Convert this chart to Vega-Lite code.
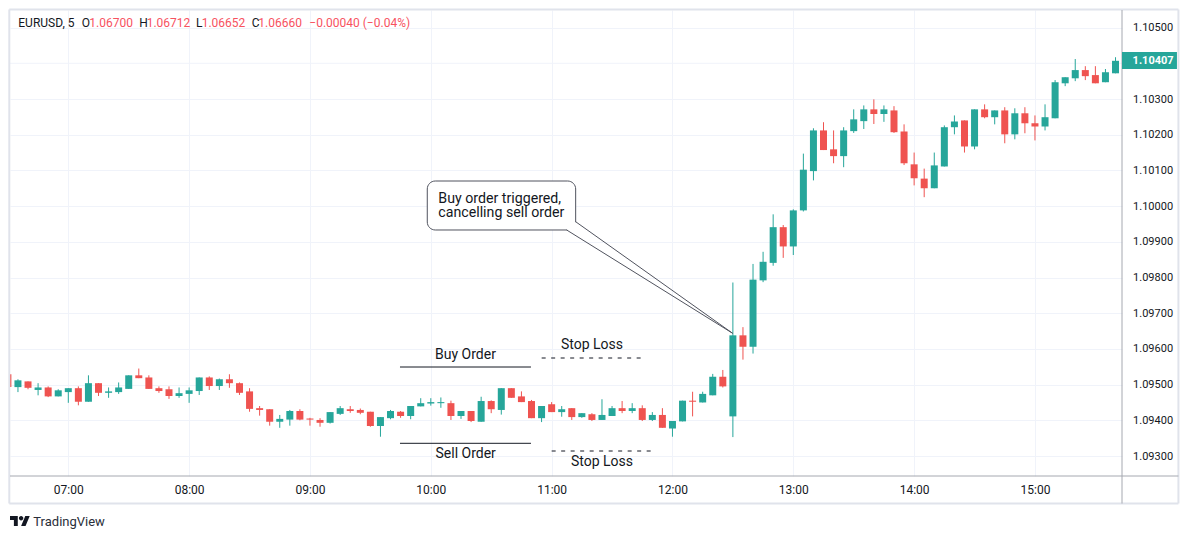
{
  "$schema": "https://vega.github.io/schema/vega-lite/v6.json",
  "width": 1112,
  "height": 466,
  "autosize": {"type": "none"},
  "padding": {"left": 10, "top": 10, "right": 67, "bottom": 63},
  "background": "#ffffff",
  "config": {"view": {"stroke": null}, "font": "Roboto", "axis": {"labelOverlap": false, "labelFlush": false}},
  "data": {
    "format": {"parse": {"t": "utc:'%H:%M'"}},
    "values": [
      {"t":"06:30","o":1.09529,"h":1.09529,"l":1.09493,"c":1.09493},
      {"t":"06:35","o":1.09493,"h":1.09515,"l":1.09479,"c":1.09512},
      {"t":"06:40","o":1.09509,"h":1.09509,"l":1.09487,"c":1.09491},
      {"t":"06:45","o":1.09485,"h":1.09504,"l":1.09470,"c":1.09492},
      {"t":"06:50","o":1.09492,"h":1.09495,"l":1.09465,"c":1.09467},
      {"t":"06:55","o":1.09467,"h":1.09487,"l":1.09467,"c":1.09484},
      {"t":"07:00","o":1.09479,"h":1.09490,"l":1.09449,"c":1.09490},
      {"t":"07:05","o":1.09490,"h":1.09495,"l":1.09442,"c":1.09452},
      {"t":"07:10","o":1.09452,"h":1.09526,"l":1.09452,"c":1.09504},
      {"t":"07:15","o":1.09504,"h":1.09504,"l":1.09468,"c":1.09477},
      {"t":"07:20","o":1.09477,"h":1.09492,"l":1.09463,"c":1.09481},
      {"t":"07:25","o":1.09479,"h":1.09506,"l":1.09474,"c":1.09492},
      {"t":"07:30","o":1.09488,"h":1.09526,"l":1.09488,"c":1.09526},
      {"t":"07:35","o":1.09526,"h":1.09545,"l":1.09518,"c":1.09518},
      {"t":"07:40","o":1.09520,"h":1.09526,"l":1.09488,"c":1.09488},
      {"t":"07:45","o":1.09490,"h":1.09495,"l":1.09477,"c":1.09482},
      {"t":"07:50","o":1.09487,"h":1.09495,"l":1.09460,"c":1.09468},
      {"t":"07:55","o":1.09468,"h":1.09492,"l":1.09463,"c":1.09476},
      {"t":"08:00","o":1.09474,"h":1.09492,"l":1.09449,"c":1.09484},
      {"t":"08:05","o":1.09482,"h":1.09520,"l":1.09471,"c":1.09520},
      {"t":"08:10","o":1.09520,"h":1.09523,"l":1.09485,"c":1.09496},
      {"t":"08:15","o":1.09496,"h":1.09517,"l":1.09485,"c":1.09515},
      {"t":"08:20","o":1.09515,"h":1.09529,"l":1.09491,"c":1.09504},
      {"t":"08:25","o":1.09504,"h":1.09506,"l":1.09471,"c":1.09477},
      {"t":"08:30","o":1.09481,"h":1.09490,"l":1.09424,"c":1.09432},
      {"t":"08:35","o":1.09434,"h":1.09440,"l":1.09413,"c":1.09429},
      {"t":"08:40","o":1.09431,"h":1.09431,"l":1.09385,"c":1.09396},
      {"t":"08:45","o":1.09396,"h":1.09415,"l":1.09379,"c":1.09404},
      {"t":"08:50","o":1.09402,"h":1.09429,"l":1.09385,"c":1.09426},
      {"t":"08:55","o":1.09426,"h":1.09431,"l":1.09400,"c":1.09402},
      {"t":"09:00","o":1.09405,"h":1.09407,"l":1.09385,"c":1.09402},
      {"t":"09:05","o":1.09401,"h":1.09406,"l":1.09382,"c":1.09393},
      {"t":"09:10","o":1.09393,"h":1.09423,"l":1.09391,"c":1.09423},
      {"t":"09:15","o":1.09418,"h":1.09440,"l":1.09415,"c":1.09434},
      {"t":"09:20","o":1.09431,"h":1.09440,"l":1.09421,"c":1.09426},
      {"t":"09:25","o":1.09429,"h":1.09433,"l":1.09417,"c":1.09421},
      {"t":"09:30","o":1.09424,"h":1.09424,"l":1.09382,"c":1.09384},
      {"t":"09:35","o":1.09384,"h":1.09409,"l":1.09354,"c":1.09409},
      {"t":"09:40","o":1.09406,"h":1.09429,"l":1.09403,"c":1.09426},
      {"t":"09:45","o":1.09424,"h":1.09426,"l":1.09407,"c":1.09412},
      {"t":"09:50","o":1.09412,"h":1.09440,"l":1.09403,"c":1.09440},
      {"t":"09:55","o":1.09439,"h":1.09462,"l":1.09439,"c":1.09448},
      {"t":"10:00","o":1.09447,"h":1.09462,"l":1.09441,"c":1.09451},
      {"t":"10:05","o":1.09448,"h":1.09464,"l":1.09435,"c":1.09451},
      {"t":"10:10","o":1.09448,"h":1.09455,"l":1.09401,"c":1.09412},
      {"t":"10:15","o":1.09412,"h":1.09426,"l":1.09404,"c":1.09426},
      {"t":"10:20","o":1.09426,"h":1.09426,"l":1.09395,"c":1.09398},
      {"t":"10:25","o":1.09396,"h":1.09466,"l":1.09396,"c":1.09454},
      {"t":"10:30","o":1.09454,"h":1.09456,"l":1.09420,"c":1.09431},
      {"t":"10:35","o":1.09429,"h":1.09490,"l":1.09416,"c":1.09490},
      {"t":"10:40","o":1.09490,"h":1.09490,"l":1.09463,"c":1.09463},
      {"t":"10:45","o":1.09467,"h":1.09481,"l":1.09451,"c":1.09451},
      {"t":"10:50","o":1.09454,"h":1.09457,"l":1.09406,"c":1.09406},
      {"t":"10:55","o":1.09406,"h":1.09440,"l":1.09395,"c":1.09440},
      {"t":"11:00","o":1.09445,"h":1.09451,"l":1.09423,"c":1.09423},
      {"t":"11:05","o":1.09423,"h":1.09440,"l":1.09410,"c":1.09431},
      {"t":"11:10","o":1.09434,"h":1.09434,"l":1.09401,"c":1.09409},
      {"t":"11:15","o":1.09409,"h":1.09420,"l":1.09407,"c":1.09420},
      {"t":"11:20","o":1.09417,"h":1.09420,"l":1.09398,"c":1.09401},
      {"t":"11:25","o":1.09401,"h":1.09459,"l":1.09401,"c":1.09415},
      {"t":"11:30","o":1.09412,"h":1.09440,"l":1.09412,"c":1.09434},
      {"t":"11:35","o":1.09434,"h":1.09454,"l":1.09420,"c":1.09426},
      {"t":"11:40","o":1.09426,"h":1.09448,"l":1.09420,"c":1.09434},
      {"t":"11:45","o":1.09434,"h":1.09442,"l":1.09398,"c":1.09401},
      {"t":"11:50","o":1.09401,"h":1.09423,"l":1.09398,"c":1.09415},
      {"t":"11:55","o":1.09415,"h":1.09434,"l":1.09379,"c":1.09379},
      {"t":"12:00","o":1.09377,"h":1.09398,"l":1.09354,"c":1.09398},
      {"t":"12:05","o":1.09397,"h":1.09455,"l":1.09397,"c":1.09455},
      {"t":"12:10","o":1.09455,"h":1.09480,"l":1.09411,"c":1.09452},
      {"t":"12:15","o":1.09450,"h":1.09480,"l":1.09450,"c":1.09474},
      {"t":"12:20","o":1.09470,"h":1.09530,"l":1.09470,"c":1.09522},
      {"t":"12:25","o":1.09522,"h":1.09541,"l":1.09492,"c":1.09495},
      {"t":"12:30","o":1.09411,"h":1.09786,"l":1.09353,"c":1.09638},
      {"t":"12:35","o":1.09638,"h":1.09661,"l":1.09570,"c":1.09606},
      {"t":"12:40","o":1.09606,"h":1.09838,"l":1.09587,"c":1.09794},
      {"t":"12:45","o":1.09792,"h":1.09872,"l":1.09787,"c":1.09844},
      {"t":"12:50","o":1.09841,"h":1.09977,"l":1.09833,"c":1.09941},
      {"t":"12:55","o":1.09941,"h":1.09947,"l":1.09855,"c":1.09887},
      {"t":"13:00","o":1.09887,"h":1.09991,"l":1.09863,"c":1.09988},
      {"t":"13:05","o":1.09988,"h":1.10147,"l":1.09985,"c":1.10102},
      {"t":"13:10","o":1.10098,"h":1.10218,"l":1.10072,"c":1.10212},
      {"t":"13:15","o":1.10212,"h":1.10235,"l":1.10157,"c":1.10157},
      {"t":"13:20","o":1.10159,"h":1.10212,"l":1.10120,"c":1.10140},
      {"t":"13:25","o":1.10140,"h":1.10221,"l":1.10109,"c":1.10212},
      {"t":"13:30","o":1.10210,"h":1.10271,"l":1.10205,"c":1.10243},
      {"t":"13:35","o":1.10238,"h":1.10282,"l":1.10216,"c":1.10271},
      {"t":"13:40","o":1.10271,"h":1.10299,"l":1.10230,"c":1.10258},
      {"t":"13:45","o":1.10258,"h":1.10282,"l":1.10236,"c":1.10271},
      {"t":"13:50","o":1.10268,"h":1.10280,"l":1.10205,"c":1.10207},
      {"t":"13:55","o":1.10209,"h":1.10229,"l":1.10115,"c":1.10120},
      {"t":"14:00","o":1.10117,"h":1.10150,"l":1.10058,"c":1.10078},
      {"t":"14:05","o":1.10077,"h":1.10105,"l":1.10025,"c":1.10050},
      {"t":"14:10","o":1.10050,"h":1.10150,"l":1.10050,"c":1.10114},
      {"t":"14:15","o":1.10111,"h":1.10226,"l":1.10111,"c":1.10221},
      {"t":"14:20","o":1.10221,"h":1.10254,"l":1.10201,"c":1.10237},
      {"t":"14:25","o":1.10240,"h":1.10240,"l":1.10150,"c":1.10167},
      {"t":"14:30","o":1.10167,"h":1.10271,"l":1.10159,"c":1.10271},
      {"t":"14:35","o":1.10271,"h":1.10285,"l":1.10246,"c":1.10249},
      {"t":"14:40","o":1.10249,"h":1.10268,"l":1.10229,"c":1.10268},
      {"t":"14:45","o":1.10268,"h":1.10277,"l":1.10176,"c":1.10201},
      {"t":"14:50","o":1.10201,"h":1.10274,"l":1.10187,"c":1.10260},
      {"t":"14:55","o":1.10260,"h":1.10277,"l":1.10204,"c":1.10232},
      {"t":"15:00","o":1.10232,"h":1.10254,"l":1.10184,"c":1.10223},
      {"t":"15:05","o":1.10223,"h":1.10285,"l":1.10212,"c":1.10249},
      {"t":"15:10","o":1.10246,"h":1.10353,"l":1.10246,"c":1.10347},
      {"t":"15:15","o":1.10344,"h":1.10361,"l":1.10336,"c":1.10361},
      {"t":"15:20","o":1.10358,"h":1.10412,"l":1.10350,"c":1.10381},
      {"t":"15:25","o":1.10381,"h":1.10392,"l":1.10353,"c":1.10364},
      {"t":"15:30","o":1.10367,"h":1.10392,"l":1.10344,"c":1.10344},
      {"t":"15:35","o":1.10347,"h":1.10384,"l":1.10347,"c":1.10375},
      {"t":"15:40","o":1.10372,"h":1.10417,"l":1.10372,"c":1.10407}
    ]
  },
  "layer": [
    {
      "data": {"values": [{}]},
      "mark": {"type": "rule", "color": "#F0F3FA", "strokeWidth": 1},
      "encoding": {
        "x": {"datum": {"year":1900,"month":1,"date":1,"hours":6,"minutes":31,"seconds":3,"utc":true}, "type": "temporal"},
        "x2": {"datum": {"year":1900,"month":1,"date":1,"hours":15,"minutes":43,"seconds":13,"utc":true}},
        "y": {"datum": 1.104, "type": "quantitative"}
      }
    },
    {
      "mark": {"type": "rule", "strokeWidth": 1, "clip": true},
      "encoding": {
        "x": {
          "field": "t", "type": "temporal",
          "scale": {"type": "utc", "padding": 0, "domain": [
            {"year":1900,"month":1,"date":1,"hours":6,"minutes":31,"seconds":3,"utc":true},
            {"year":1900,"month":1,"date":1,"hours":15,"minutes":43,"seconds":13,"utc":true}
          ]},
          "axis": {
            "title": null,
            "values": [
              {"year":1900,"month":1,"date":1,"hours":7,"utc":true},
              {"year":1900,"month":1,"date":1,"hours":8,"utc":true},
              {"year":1900,"month":1,"date":1,"hours":9,"utc":true},
              {"year":1900,"month":1,"date":1,"hours":10,"utc":true},
              {"year":1900,"month":1,"date":1,"hours":11,"utc":true},
              {"year":1900,"month":1,"date":1,"hours":12,"utc":true},
              {"year":1900,"month":1,"date":1,"hours":13,"utc":true},
              {"year":1900,"month":1,"date":1,"hours":14,"utc":true},
              {"year":1900,"month":1,"date":1,"hours":15,"utc":true}
            ],
            "labelExpr": "utcFormat(datum.value, '%H:%M')",
            "grid": true, "gridColor": "#F0F3FA", "gridWidth": 1,
            "ticks": false, "tickSize": 0, "domain": false,
            "labelFont": "Roboto", "labelFontSize": 12, "labelColor": "#131722",
            "labelPadding": 13, "labelBaseline": "middle", "labelFlush": false, "labelOverlap": false
          }
        },
        "y": {
          "field": "l", "type": "quantitative",
          "scale": {"domain": [1.09244, 1.105493], "zero": false, "nice": false, "padding": 0},
          "axis": {
            "title": null, "orient": "right",
            "values": [1.093, 1.094, 1.095, 1.096, 1.097, 1.098, 1.099, 1.100, 1.101, 1.102, 1.103, 1.105],
            "format": ".5f",
            "grid": true, "gridColor": "#F0F3FA", "gridWidth": 1,
            "ticks": false, "tickSize": 0, "domain": false,
            "labelFont": "Roboto", "labelFontSize": 11, "labelColor": "#131722",
            "labelPadding": 10.6, "labelAlign": "left", "labelFlush": false, "labelOverlap": false,
            "labelSeparation": 0
          }
        },
        "y2": {"field": "h"},
        "color": {"condition": {"test": "datum.o > datum.c", "value": "#EF5350"}, "value": "#26A69A"}
      }
    },
    {
      "mark": {"type": "bar", "width": 7, "clip": true},
      "encoding": {
        "x": {"field": "t", "type": "temporal"},
        "y": {"field": "o", "type": "quantitative"},
        "y2": {"field": "c"},
        "color": {"condition": {"test": "datum.o > datum.c", "value": "#EF5350"}, "value": "#26A69A"}
      }
    },
    {
      "data": {"values": [{}]},
      "layer": [
        {
          "mark": {"type": "rule", "color": "#E0E3EB", "strokeWidth": 2},
          "encoding": {
            "x": {"datum": {"year":1900,"month":1,"date":1,"hours":6,"minutes":30,"seconds":42,"utc":true}, "type": "temporal"},
            "x2": {"datum": {"year":1900,"month":1,"date":1,"hours":16,"minutes":11,"seconds":14,"utc":true}},
            "y": {"datum": 1.105507, "type": "quantitative"}
          }
        },
        {
          "mark": {"type": "rule", "color": "#E0E3EB", "strokeWidth": 2},
          "encoding": {
            "x": {"datum": {"year":1900,"month":1,"date":1,"hours":6,"minutes":30,"seconds":42,"utc":true}, "type": "temporal"},
            "x2": {"datum": {"year":1900,"month":1,"date":1,"hours":16,"minutes":11,"seconds":14,"utc":true}},
            "y": {"datum": 1.091669, "type": "quantitative"}
          }
        },
        {
          "mark": {"type": "rule", "color": "#E0E3EB", "strokeWidth": 2},
          "encoding": {
            "x": {"datum": {"year":1900,"month":1,"date":1,"hours":6,"minutes":30,"seconds":42,"utc":true}, "type": "temporal"},
            "y": {"datum": 1.105507, "type": "quantitative"},
            "y2": {"datum": 1.091669}
          }
        },
        {
          "mark": {"type": "rule", "color": "#E0E3EB", "strokeWidth": 2},
          "encoding": {
            "x": {"datum": {"year":1900,"month":1,"date":1,"hours":16,"minutes":11,"seconds":14,"utc":true}, "type": "temporal"},
            "y": {"datum": 1.105507, "type": "quantitative"},
            "y2": {"datum": 1.091669}
          }
        },
        {
          "mark": {"type": "rule", "color": "#A5A8B0", "strokeWidth": 1},
          "encoding": {
            "x": {"datum": {"year":1900,"month":1,"date":1,"hours":6,"minutes":31,"seconds":3,"utc":true}, "type": "temporal"},
            "x2": {"datum": {"year":1900,"month":1,"date":1,"hours":16,"minutes":11,"seconds":14,"utc":true}},
            "y": {"datum": 1.09244, "type": "quantitative"}
          }
        },
        {
          "mark": {"type": "rule", "color": "#A5A8B0", "strokeWidth": 1},
          "encoding": {
            "x": {"datum": {"year":1900,"month":1,"date":1,"hours":15,"minutes":43,"seconds":13,"utc":true}, "type": "temporal"},
            "y": {"datum": 1.105493, "type": "quantitative"},
            "y2": {"datum": 1.091669}
          }
        },
        {
          "mark": {"type": "rect", "color": "#26A69A"},
          "encoding": {
            "x": {"datum": {"year":1900,"month":1,"date":1,"hours":15,"minutes":43,"seconds":13,"utc":true}, "type": "temporal"},
            "x2": {"datum": {"year":1900,"month":1,"date":1,"hours":16,"minutes":10,"seconds":30,"utc":true}},
            "y": {"datum": 1.104317, "type": "quantitative"},
            "y2": {"datum": 1.10384}
          }
        },
        {
          "mark": {"type": "text", "color": "#ffffff", "font": "Roboto", "fontSize": 11, "fontWeight": "bold", "align": "left", "baseline": "middle"},
          "encoding": {
            "x": {"datum": {"year":1900,"month":1,"date":1,"hours":15,"minutes":48,"seconds":28,"utc":true}, "type": "temporal"},
            "y": {"datum": 1.10407, "type": "quantitative"},
            "text": {"value": "1.10407"}
          }
        },
        {
          "mark": {"type": "point", "filled": true, "color": "#131722", "opacity": 1, "size": 400, "strokeWidth": 0,
                   "shape": "M-0.222 0.5H-0.611V-0.111H-1V-0.5H-0.222Z M0.556 0.5H0.111L0.528 -0.5H0.972Z M-0.111 -0.278A0.222 0.222 0 1 0 0.333 -0.278A0.222 0.222 0 1 0 -0.111 -0.278Z"},
          "encoding": {
            "x": {"datum": {"year":1900,"month":1,"date":1,"hours":6,"minutes":36,"seconds":1,"utc":true}, "type": "temporal"},
            "y": {"datum": 1.091179, "type": "quantitative"}
          }
        },
        {
          "mark": {"type": "text", "color": "#2A2E39", "font": "Roboto", "fontSize": 13, "align": "left", "baseline": "middle"},
          "encoding": {
            "x": {"datum": {"year":1900,"month":1,"date":1,"hours":6,"minutes":42,"seconds":37,"utc":true}, "type": "temporal"},
            "y": {"datum": 1.09116, "type": "quantitative"},
            "text": {"value": "TradingView"}
          }
        }
      ]
    },
    {
      "data": {
        "format": {"parse": {"t": "utc:'%H:%M:%S'"}},
        "values": [
          {"t":"06:35:10","text":"EURUSD, 5","kind":"label"},
          {"t":"07:06:39","text":"O","kind":"label"},
          {"t":"07:10:26","text":"1.06700","kind":"value"},
          {"t":"07:35:15","text":"H","kind":"label"},
          {"t":"07:38:56","text":"1.06712","kind":"value"},
          {"t":"08:03:25","text":"L","kind":"label"},
          {"t":"08:06:14","text":"1.06652","kind":"value"},
          {"t":"08:31:04","text":"C","kind":"label"},
          {"t":"08:34:20","text":"1.06660","kind":"value"},
          {"t":"08:59:40","text":"−0.00040 (−0.04%)","kind":"value"}
        ]
      },
      "mark": {"type": "text", "font": "Roboto", "fontSize": 12, "align": "left", "baseline": "middle"},
      "encoding": {
        "x": {"field": "t", "type": "temporal"},
        "y": {"datum": 1.105129, "type": "quantitative"},
        "text": {"field": "text"},
        "color": {"field": "kind", "type": "nominal", "scale": {"domain": ["label", "value"], "range": ["#131722", "#F7525F"]}, "legend": null}
      }
    },
    {
      "data": {
        "format": {"parse": {"t1": "utc:'%H:%M:%S'", "t2": "utc:'%H:%M:%S'"}},
        "values": [
          {"t1":"09:44:42","t2":"10:49:44","p":1.095493,"style":"solid"},
          {"t1":"09:44:42","t2":"10:49:44","p":1.093356,"style":"solid"},
          {"t1":"10:55:03","t2":"11:44:42","p":1.095745,"style":"dashed"},
          {"t1":"11:00:01","t2":"11:49:40","p":1.093140,"style":"dashed"}
        ]
      },
      "mark": {"type": "rule", "color": "#131722", "strokeWidth": 1},
      "encoding": {
        "x": {"field": "t1", "type": "temporal"},
        "x2": {"field": "t2"},
        "y": {"field": "p", "type": "quantitative"},
        "strokeDash": {"field": "style", "type": "nominal", "scale": {"domain": ["solid", "dashed"], "range": [[1, 0], [4, 5.5]]}, "legend": null}
      }
    },
    {
      "data": {
        "format": {"parse": {"t": "utc:'%H:%M:%S'"}},
        "values": [
          {"t":"10:17:13","p":1.095829,"text":"Buy Order"},
          {"t":"10:17:19","p":1.093048,"text":"Sell Order"},
          {"t":"11:20:02","p":1.096109,"text":"Stop Loss"},
          {"t":"11:24:59","p":1.092824,"text":"Stop Loss"}
        ]
      },
      "mark": {"type": "text", "font": "Roboto", "fontSize": 14, "color": "#131722", "align": "center", "baseline": "middle"},
      "encoding": {
        "x": {"field": "t", "type": "temporal"},
        "y": {"field": "p", "type": "quantitative"},
        "text": {"field": "text"}
      }
    },
    {
      "data": {
        "format": {"parse": {"t1": "utc:'%H:%M:%S'", "t2": "utc:'%H:%M:%S'"}},
        "values": [
          {"t1":"09:58:15","t2":"11:11:56","p1":1.100703,"p2":1.099331}
        ]
      },
      "mark": {"type": "rect", "fill": "#ffffff", "stroke": "#50535E", "strokeWidth": 1, "cornerRadius": 8},
      "encoding": {
        "x": {"field": "t1", "type": "temporal"},
        "x2": {"field": "t2"},
        "y": {"field": "p1", "type": "quantitative"},
        "y2": {"field": "p2"}
      }
    },
    {
      "data": {
        "format": {"parse": {"t1": "utc:'%H:%M:%S'", "t2": "utc:'%H:%M:%S'"}},
        "values": [
          {"t1":"11:07:43","t2":"11:12:50","p1":1.099549,"p2":1.099289}
        ]
      },
      "mark": {"type": "rect", "fill": "#ffffff", "strokeWidth": 0},
      "encoding": {
        "x": {"field": "t1", "type": "temporal"},
        "x2": {"field": "t2"},
        "y": {"field": "p1", "type": "quantitative"},
        "y2": {"field": "p2"}
      }
    },
    {
      "data": {
        "format": {"parse": {"t1": "utc:'%H:%M:%S'", "t2": "utc:'%H:%M:%S'"}},
        "values": [
          {"t1":"11:07:28","p1":1.099331,"t2":"12:29:53","p2":1.096437},
          {"t1":"11:11:56","p1":1.099563,"t2":"12:29:53","p2":1.096437}
        ]
      },
      "mark": {"type": "rule", "color": "#50535E", "strokeWidth": 1},
      "encoding": {
        "x": {"field": "t1", "type": "temporal"},
        "x2": {"field": "t2"},
        "y": {"field": "p1", "type": "quantitative"},
        "y2": {"field": "p2"}
      }
    },
    {
      "data": {
        "format": {"parse": {"t": "utc:'%H:%M:%S'"}},
        "values": [
          {"t":"10:03:43","p":1.100206,"text":"Buy order triggered,\ncancelling sell order"}
        ]
      },
      "mark": {"type": "text", "font": "Roboto", "fontSize": 14.2, "lineBreak": "\n", "lineHeight": 14.5, "color": "#131722", "align": "left", "baseline": "middle"},
      "encoding": {
        "x": {"field": "t", "type": "temporal"},
        "y": {"field": "p", "type": "quantitative"},
        "text": {"field": "text"}
      }
    }
  ]
}
